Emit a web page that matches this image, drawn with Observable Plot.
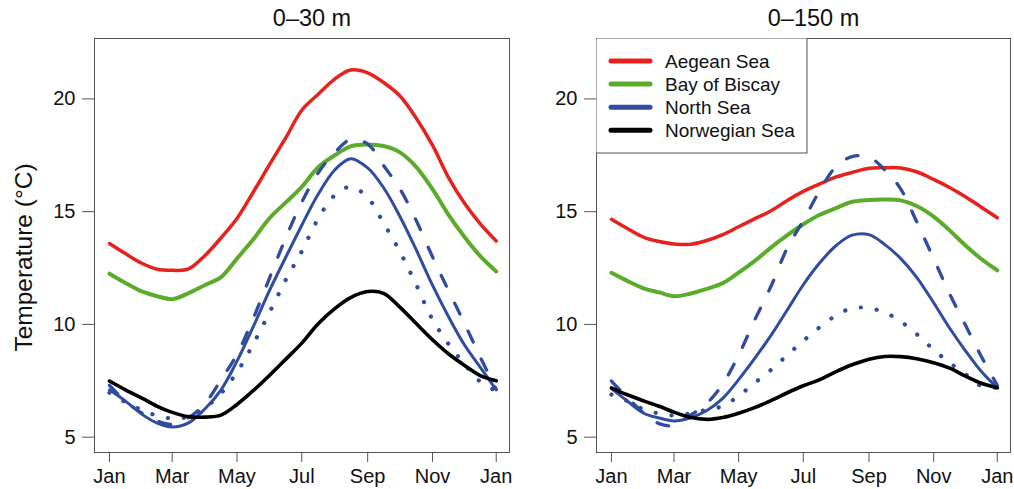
<!DOCTYPE html>
<html><head><meta charset="utf-8">
<script src="https://cdn.jsdelivr.net/npm/d3@7"></script>
<script src="https://cdn.jsdelivr.net/npm/@observablehq/plot@0.6"></script>
<style>
html,body{margin:0;padding:0;background:#fff;}
#wrap{position:relative;width:1014px;height:489px;display:flex;font-family:"Liberation Sans",Arial,Helvetica,sans-serif;}
#wrap svg{display:block;}
</style></head><body><div id="wrap"></div>
<script>
// ---- data ----
const days = [1,16,32,46,60,75,91,106,121,136,152,167,182,197,213,228,244,259,274,289,305,320,335,350,365];
const tickDays = [1,60,121,182,244,305,365];
const tickLabels = ["Jan","Mar","May","Jul","Sep","Nov","Jan"];
const yTicks = [5,10,15,20];
const regions = ["Aegean Sea","Bay of Biscay","North Sea","Norwegian Sea"];
const regionColors = ["#e5221d","#5bac2a","#2f4c9f","#000000"];
const panelTitles = ["0\u201330 m","0\u2013150 m"];
const yLabel = "Temperature (\u00B0C)";

// 0–30 m
const aegean30   = [13.59,13.14,12.70,12.45,12.40,12.45,13.06,13.84,14.70,15.84,17.12,18.28,19.50,20.19,20.88,21.28,21.16,20.73,20.15,19.20,17.95,16.52,15.38,14.46,13.70];
const biscay30   = [12.25,11.84,11.45,11.25,11.12,11.38,11.75,12.10,12.92,13.75,14.73,15.41,16.10,16.95,17.50,17.90,17.98,17.91,17.64,17.02,16.00,14.87,13.89,13.03,12.35];
const northSolid30  = [7.10,6.60,6.00,5.62,5.45,5.62,6.26,7.10,8.37,9.87,11.54,12.99,14.40,15.74,16.85,17.35,16.94,16.06,14.82,13.38,11.74,10.35,9.10,8.10,7.10];
const northDashed30 = [7.30,6.60,6.05,5.72,5.57,5.85,6.50,7.55,8.67,10.23,12.10,13.85,15.42,16.69,17.62,18.20,18.00,17.04,16.04,14.68,13.00,11.51,10.06,8.55,7.12];
const northDotted30 = [6.97,6.55,6.20,5.95,5.83,5.90,6.30,6.95,7.88,9.10,10.57,11.98,13.24,14.65,15.73,16.10,15.63,14.49,13.26,11.83,10.22,9.14,8.25,7.46,7.05];
const norwegian30   = [7.49,7.10,6.72,6.37,6.10,5.91,5.89,5.98,6.45,7.05,7.76,8.46,9.17,10.01,10.70,11.19,11.46,11.38,10.78,10.07,9.32,8.70,8.19,7.73,7.50];

// 0–150 m
const aegean150  = [14.66,14.25,13.85,13.68,13.57,13.55,13.72,13.98,14.33,14.68,15.05,15.50,15.90,16.22,16.54,16.74,16.93,16.95,16.94,16.77,16.43,16.07,15.66,15.20,14.73];
const biscay150  = [12.29,11.93,11.59,11.42,11.25,11.36,11.58,11.83,12.30,12.81,13.43,13.96,14.44,14.85,15.16,15.44,15.52,15.54,15.50,15.25,14.78,14.17,13.50,12.90,12.40];
const northSolid150  = [7.15,6.60,6.05,5.85,5.72,5.85,6.18,6.72,7.55,8.48,9.55,10.65,11.76,12.70,13.50,13.96,13.98,13.54,12.92,12.09,10.96,9.84,8.83,7.91,7.19];
const northDashed150 = [7.49,6.75,6.05,5.60,5.52,5.95,6.50,7.36,8.64,10.18,11.74,13.40,14.60,15.89,17.01,17.44,17.42,16.85,16.00,14.55,12.92,11.36,9.97,8.58,7.30];
const northDotted150 = [6.89,6.60,6.22,6.05,5.96,6.05,6.22,6.38,6.83,7.40,8.00,8.64,9.27,9.86,10.40,10.72,10.72,10.53,10.13,9.57,8.88,8.30,7.79,7.27,7.19];
const norwegian150   = [7.19,6.88,6.60,6.37,6.11,5.88,5.79,5.87,6.06,6.31,6.63,6.97,7.28,7.54,7.91,8.21,8.46,8.58,8.57,8.48,8.30,8.06,7.71,7.39,7.19];

const panels = [
  [aegean30, biscay30, northDotted30, northDashed30, northSolid30, norwegian30],
  [aegean150, biscay150, northDotted150, northDashed150, northSolid150, norwegian150]
];
// style of each series (index into regions)
const seriesRegion = [0,1,2,2,2,3];
const seriesDash = [null,null,"0.1,15.9","12,19",null,null];
const seriesWidth = [3.5,4,4.2,3.3,3,3.6];

const font = "Liberation Sans, Arial, Helvetica, sans-serif";

function makePanel(p, w, ml, mr){
  const marks = [
    Plot.frame({stroke:"#555", strokeWidth:1}),
    Plot.axisY({ticks:yTicks, tickSize:12, tickPadding:7, fontSize:20, label:null, stroke:"#555", fill:"#111"}),
    Plot.axisX({ticks:tickDays, tickFormat:d=>tickLabels[tickDays.indexOf(d)], tickSize:10, tickPadding:6, fontSize:20, label:null, stroke:"#555", fill:"#111"})
  ];
  panels[p].forEach((vals, s) => {
    const rows = days.map((d,i)=>({day:d, value:vals[i]}));
    marks.push(Plot.line(rows, {x:"day", y:"value", stroke:regionColors[seriesRegion[s]], strokeWidth:seriesWidth[s],
      strokeDasharray:seriesDash[s] || undefined, strokeLinecap:"round", strokeLinejoin:"round", curve:"catmull-rom"}));
  });
  marks.push(Plot.text([panelTitles[p]], {frameAnchor:"top", lineAnchor:"bottom", dy:-12.5, dx:10, fontSize:23.5, fill:"#111"}));
  if (p===0) marks.push(Plot.text([yLabel], {frameAnchor:"left", textAnchor:"middle", rotate:-90, dx:-70, dy:12, fontSize:24.5, fill:"#111"}));
  return Plot.plot({
    width:w, height:489, marginLeft:ml, marginRight:mr, marginTop:38, marginBottom:37,
    x:{domain:[-13.1,377.5]}, y:{domain:[4.32,22.68]},
    style:{fontFamily:font, background:"transparent", color:"#111", overflow:"visible"},
    marks
  });
}

const wrap = document.getElementById("wrap");
wrap.appendChild(makePanel(0, 520, 94, 11));
wrap.appendChild(makePanel(1, 494, 76, 4));

// legend (panel 2, top-left)
const lg = d3.select(wrap).append("svg")
  .attr("width",212).attr("height",116)
  .style("position","absolute").style("left","596px").style("top","38px")
  .style("font-family",font);
lg.append("rect").attr("x",0).attr("y",0).attr("width",211).attr("height",115)
  .attr("fill","#fff").attr("stroke","#555").attr("stroke-width",1);
regions.forEach((r,i)=>{
  const y = 23 + i*23.1;
  lg.append("line").attr("x1",15).attr("x2",54).attr("y1",y).attr("y2",y)
    .attr("stroke",regionColors[i]).attr("stroke-width",5).attr("stroke-linecap","round");
  lg.append("text").attr("x",69).attr("y",y).attr("dy","0.35em").attr("font-size",19).attr("fill","#111").text(r);
});
</script></body></html>
